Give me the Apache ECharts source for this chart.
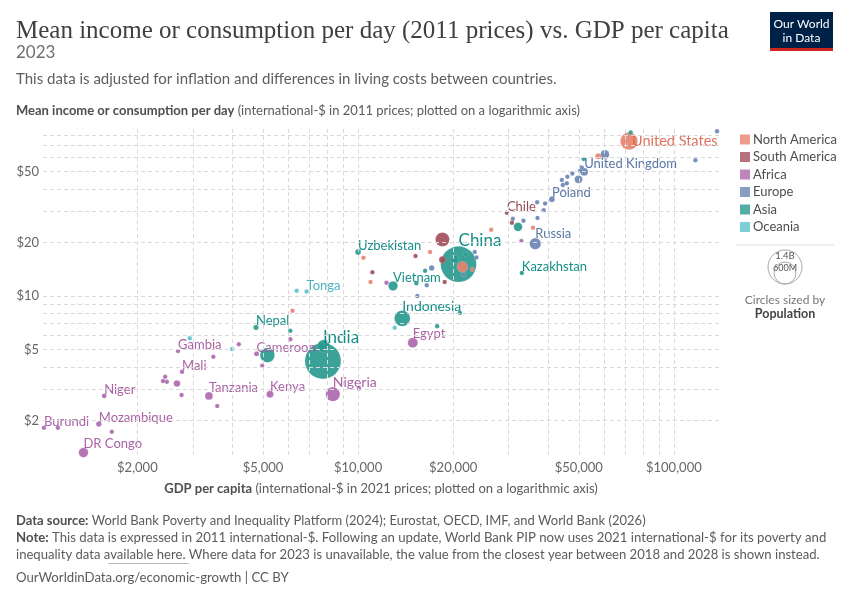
<!DOCTYPE html>
<html><head><meta charset="utf-8">
<script src="https://cdn.jsdelivr.net/npm/echarts@6/dist/echarts.min.js"></script>
<style>html,body{margin:0;padding:0;background:#fff}#c{width:850px;height:600px}</style>
</head><body><div id="c"></div>
<script>
// ---------- DATA ----------
const regionNames = ['North America','South America','Africa','Europe','Asia','Oceania'];

const countries = [
  'United States','Canada','Costa Rica','Panama','Dominican Republic','Mexico','Jamaica','Belize','El Salvador','Honduras',
  'Brazil','Chile','Uruguay','Colombia','Paraguay','Bolivia','Ecuador',
  'Luxembourg','Ireland','Germany','Belgium','United Kingdom','Austria','France','Sweden','Finland','Malta','Slovenia','Czechia',
  'Lithuania','Estonia','Latvia','Hungary','Greece','Slovakia','Poland','Russia','Serbia','Montenegro','Ukraine','Albania','Moldova','Kosovo',
  'United Arab Emirates','Israel','Turkey','Kazakhstan','China','Thailand','Georgia','Uzbekistan','Armenia','Mongolia','Vietnam','Indonesia',
  'Bhutan','Maldives','Kyrgyzstan','Nepal','Bangladesh','India','Pakistan',
  'Samoa','Tonga','Fiji','Solomon Islands','Vanuatu',
  'Mauritius','Tunisia','Egypt','Cape Verde','Cameroon','Senegal','Comoros','Benin','Gambia','Mali','Guinea-Bissau','Sierra Leone','Togo',
  'Uganda','Chad','Niger','Tanzania','Zambia','Kenya','Nigeria','Eswatini','Burundi','Central African Republic','Mozambique','Malawi','DR Congo'
];
const regionOf = [
  'North America','North America','North America','North America','North America','North America','North America','North America','North America','North America',
  'South America','South America','South America','South America','South America','South America','South America',
  'Europe','Europe','Europe','Europe','Europe','Europe','Europe','Europe','Europe','Europe','Europe','Europe',
  'Europe','Europe','Europe','Europe','Europe','Europe','Europe','Europe','Europe','Europe','Europe','Europe','Europe','Europe',
  'Asia','Asia','Asia','Asia','Asia','Asia','Asia','Asia','Asia','Asia','Asia','Asia',
  'Asia','Asia','Asia','Asia','Asia','Asia','Asia',
  'Oceania','Oceania','Oceania','Oceania','Oceania',
  'Africa','Africa','Africa','Africa','Africa','Africa','Africa','Africa','Africa','Africa','Africa','Africa','Africa',
  'Africa','Africa','Africa','Africa','Africa','Africa','Africa','Africa','Africa','Africa','Africa','Africa','Africa'
];
// GDP per capita (international-$, 2021 prices)
const gdpPerCapita = [
  72100,57600,26400,35800,23000,21400,16900,10400,10950,6200,
  18500,29600,30700,18500,15200,11100,18800,
  137000,117000,60500,51100,52000,50400,49900,47700,46000,44200,45800,44500,
  36900,39100,38700,37000,30900,33400,41100,36400,23400,23700,17100,21600,16500,15400,
  73000,51800,32100,33000,20800,20200,21900,10000,16300,15300,12900,13800,
  17800,21000,6100,4750,7770,7740,5160,
  6390,6870,13060,2930,3990,
  32900,12300,14900,6100,4770,4970,4190,3480,2690,2770,2450,2410,2480,
  2670,2760,1570,3370,3580,5260,8320,10070,1012,1120,1510,1660,1350
];
// Mean income or consumption per day (international-$, 2011 prices)
const incomePerDay = [
  74.3,61.0,23.6,24.2,14.1,14.6,17.7,16.4,12.0,8.27,
  20.8,29.4,25.8,16.0,16.8,13.6,12.0,
  84.5,58.0,62.5,52.8,49.9,50.4,45.3,48.9,46.8,44.9,43.0,42.1,
  33.7,33.1,30.4,27.5,27.2,26.5,35.0,19.7,17.7,16.5,14.4,13.2,11.5,10.0,
  83.0,59.0,24.5,13.5,15.1,16.1,17.2,17.7,13.9,11.8,11.4,7.5,
  6.78,8.05,6.38,6.67,5.24,4.32,4.66,
  10.7,10.6,6.64,5.79,5.04,
  20.4,11.9,5.47,5.73,4.74,4.06,5.37,4.56,4.91,3.76,3.52,3.33,3.30,
  3.23,2.78,2.75,2.75,2.41,2.81,2.81,3.03,1.82,1.82,1.91,1.73,1.32
];
// Population (millions)
const populationMillions = [
  335,39,5.2,4.4,11.3,128,2.8,0.4,6.3,10.6,
  216,19.6,3.4,52,6.8,12.4,18,
  0.66,5.2,84,11.7,68,9.1,68,10.5,5.6,0.5,2.1,10.9,
  2.9,1.4,1.9,9.6,10.4,5.4,37,144,6.6,0.6,33,2.8,2.5,1.8,
  9.5,9.8,85,20,1410,72,3.7,36,2.8,3.4,99,277,
  0.8,0.5,7,30,171,1430,240,
  0.2,0.1,0.9,0.7,0.3,
  1.3,12,112,0.6,28,18,0.8,13,2.7,23,2.1,8.8,9,
  48,18,27,67,20,55,223,1.2,13,5.7,33,20,102
];
const labelledCountries = ['United States','United Kingdom','Poland','Chile','Russia','Kazakhstan','China','Uzbekistan',
  'Vietnam','Tonga','Indonesia','Egypt','India','Nepal','Cameroon','Gambia','Mali','Niger','Tanzania','Kenya','Nigeria',
  'Burundi','Mozambique','DR Congo'];

const xTickValues = [2000,5000,10000,20000,50000,100000];
const xTickLabels = ['$2,000','$5,000','$10,000','$20,000','$50,000','$100,000'];
const yTickValues = [2,5,10,20,50];
const yTickLabels = ['$2','$5','$10','$20','$50'];
const xGridValues = [2000,3000,4000,5000,6000,7000,8000,9000,10000,20000,30000,40000,50000,60000,70000,80000,90000,100000];
const yGridValues = [2,3,4,5,6,7,8,9,10,20,30,40,50,60,70,80];

// ---------- STYLE ----------
const regionColors = {
  'North America':'#e8826f','South America':'#a24f5c','Africa':'#ad69ad',
  'Europe':'#6a84b3','Asia':'#2a9a90','Oceania':'#5ec2ce'
};
const labelColors = {
  'North America':'#e0644f','South America':'#8c3b47','Africa':'#a2559c',
  'Europe':'#4c6a9c','Asia':'#00847e','Oceania':'#3eaabb'
};
const FONT = 'Lato, "Noto Sans", sans-serif';

// ---------- BUILD ----------
const idx = countries.map((_, i) => i).sort((a, b) => populationMillions[b] - populationMillions[a]);
const mainData = idx.map(i => {
  const name = countries[i];
  const reg = regionOf[i];
  const pop = populationMillions[i];
  const item = {
    name: name,
    value: [gdpPerCapita[i], incomePerDay[i], pop],
    itemStyle: { color: regionColors[reg] }
  };
  if (labelledCountries.includes(name)) {
    const fs = pop > 1000 ? 17 : pop > 300 ? 14.5 : pop > 200 ? 14 : 13;
    item.label = {
      show: true, formatter: name, color: labelColors[reg], fontSize: fs, fontFamily: FONT,
      position: 'top', align: 'left', distance: -3
    };
    if (name === 'United States') { item.label.position = 'right'; item.label.distance = -6; item.label.align = null; }
  }
  return item;
});

const gridLines = [];
xGridValues.forEach(v => {
  const k = xTickValues.indexOf(v);
  gridLines.push({ xAxis: v, label: k >= 0 ? { show: true, position: 'start', formatter: xTickLabels[k], distance: 6,
    color: '#666', fontSize: 13, fontFamily: FONT } : { show: false } });
});
yGridValues.forEach(v => {
  const k = yTickValues.indexOf(v);
  gridLines.push({ yAxis: v, label: k >= 0 ? { show: true, position: 'start', formatter: yTickLabels[k], distance: 4,
    color: '#666', fontSize: 13, fontFamily: FONT } : { show: false } });
});

const series = [{
  type: 'scatter', name: '_grid', data: [], z: 1, silent: true,
  markLine: { silent: true, symbol: ['none', 'none'], animation: false,
    lineStyle: { color: '#dadada', type: [4, 3], width: 1 }, emphasis: { disabled: true }, data: gridLines }
}];
regionNames.forEach(r => series.push({ type: 'scatter', name: r, data: [], itemStyle: { color: regionColors[r] } }));
series.push({
  type: 'scatter', name: 'countries', z: 3, data: mainData, clip: false,
  symbolSize: v => Math.max(4.5, 36 * Math.sqrt(v[2] / 1430)),
  itemStyle: { opacity: 0.92, borderColor: 'rgba(255,255,255,0.35)', borderWidth: 0.5 },
  label: { show: false },
  emphasis: { disabled: true }
});

const txt = (x, y, text, extra) => ({ type: 'text', x: x, y: y, silent: true,
  style: Object.assign({ text: text, fontFamily: FONT, fontSize: 13, fill: '#5b5b5b', verticalAlign: 'middle' }, extra || {}) });
const boldRich = (fs) => ({ b: { fontFamily: FONT, fontSize: fs, fontWeight: 'bold', fill: '#4f4f4f' } });

const graphics = [
  txt(16, 31, 'Mean income or consumption per day (2011 prices) vs. GDP per capita',
    { fontFamily: '"Liberation Serif", "DejaVu Serif", serif', fontSize: 25, fill: '#404040' }),
  txt(16, 53, '2023', { fontSize: 17, fill: '#6e6e6e' }),
  txt(16, 79, 'This data is adjusted for inflation and differences in living costs between countries.', { fontSize: 15, fill: '#5e5e5e' }),
  txt(16, 111, '{b|Mean income or consumption per day} (international-$ in 2011 prices; plotted on a logarithmic axis)',
    { fontSize: 13, fill: '#5b5b5b', rich: boldRich(13) }),
  txt(381, 489, '{b|GDP per capita} (international-$ in 2021 prices; plotted on a logarithmic axis)',
    { fontSize: 13, fill: '#5b5b5b', align: 'center', rich: boldRich(13) }),
  txt(16, 521, '{b|Data source:} World Bank Poverty and Inequality Platform (2024); Eurostat, OECD, IMF, and World Bank (2026)',
    { fontSize: 13, rich: boldRich(13) }),
  txt(16, 538, '{b|Note:} This data is expressed in 2011 international-$. Following an update, World Bank PIP now uses 2021 international-$ for its poverty and',
    { fontSize: 13.2, rich: boldRich(13.2) }),
  txt(16, 555, 'inequality data available here. Where data for 2023 is unavailable, the value from the closest year between 2018 and 2028 is shown instead.',
    { fontSize: 13.1 }),
  { type: 'line', silent: true, shape: { x1: 108, y1: 563.5, x2: 189, y2: 563.5 }, style: { stroke: '#bbb', lineWidth: 1 } },
  txt(16, 578, 'OurWorldinData.org/economic-growth | CC BY', { fontSize: 13.2 }),
  // logo
  { type: 'rect', silent: true, shape: { x: 770, y: 12, width: 63, height: 36 }, style: { fill: '#002147' } },
  { type: 'rect', silent: true, shape: { x: 770, y: 48, width: 63, height: 3 }, style: { fill: '#ce261e' } },
  txt(801.5, 24.5, 'Our World', { fill: '#fff', fontSize: 12, align: 'center' }),
  txt(801.5, 38.5, 'in Data', { fill: '#fff', fontSize: 12, align: 'center' }),
  // size legend
  { type: 'line', silent: true, shape: { x1: 736, y1: 245, x2: 834, y2: 245 }, style: { stroke: '#ddd', lineWidth: 1 } },
  { type: 'circle', silent: true, shape: { cx: 785, cy: 267, r: 17 }, style: { fill: 'none', stroke: '#aaa', lineWidth: 1 } },
  { type: 'circle', silent: true, shape: { cx: 785, cy: 273, r: 11 }, style: { fill: 'none', stroke: '#aaa', lineWidth: 1 } },
  txt(785, 256, '1.4B', { fontSize: 9.5, fill: '#555', align: 'center' }),
  txt(785, 268, '600M', { fontSize: 9, fill: '#555', align: 'center' }),
  txt(785, 300, 'Circles sized by', { fontSize: 12, fill: '#777', align: 'center' }),
  txt(785, 314, 'Population', { fontSize: 12.5, fill: '#444', align: 'center', fontWeight: 'bold' })
];

const chart = echarts.init(document.getElementById('c'), null, { renderer: 'canvas' });
chart.setOption({
  animation: false,
  backgroundColor: '#fff',
  textStyle: { fontFamily: FONT },
  grid: { left: 43, right: 130, top: 128, bottom: 145, containLabel: false },
  xAxis: { type: 'log', logBase: 10, min: 1005, max: 140000,
    axisLine: { show: false }, axisTick: { show: false }, axisLabel: { show: false }, splitLine: { show: false } },
  yAxis: { type: 'log', logBase: 10, min: 1.28, max: 88,
    axisLine: { show: false }, axisTick: { show: false }, axisLabel: { show: false }, splitLine: { show: false } },
  legend: { data: regionNames, orient: 'vertical', left: 735, top: 128, icon: 'rect', itemWidth: 10, itemHeight: 10,
    itemGap: 4.5, selectedMode: false, textStyle: { fontFamily: FONT, fontSize: 13, color: '#4d4d4d', padding: [0, 0, 0, -2] } },
  series: series,
  graphic: graphics
});
</script></body></html>
